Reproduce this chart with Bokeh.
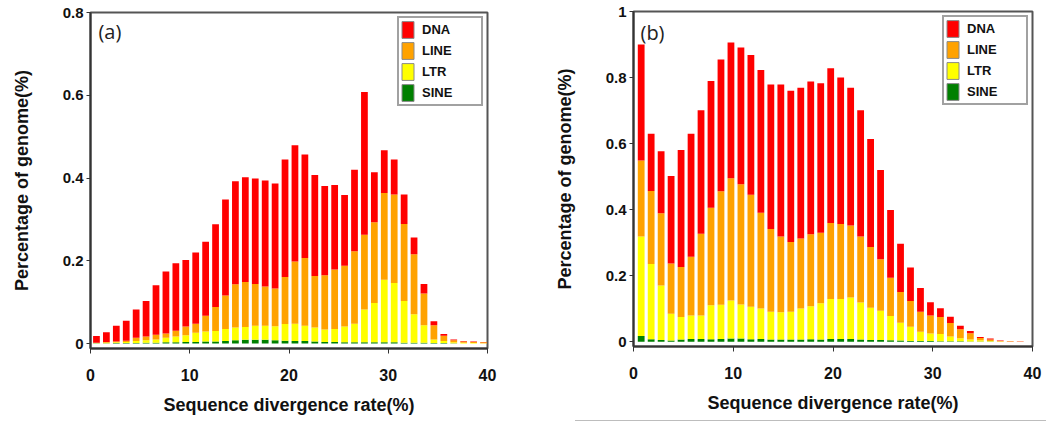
import numpy as np
from bokeh.plotting import figure
from bokeh.models import (ColumnDataSource, Legend, LegendItem, FixedTicker, Label,
                          Range1d, Div, Spacer)
from bokeh.layouts import row, column
from bokeh.embed import file_html
from bokeh.resources import INLINE

# ---------------- data (percentage of genome per 1% divergence bin) ----------------
types = ["DNA", "LINE", "LTR", "SINE"]
colors = {"DNA": "#FF0000", "LINE": "#FFA200", "LTR": "#FFFF00", "SINE": "#008000"}

# panel (a)
bins_a = list(range(40))
dna_a = [0.016, 0.023, 0.038, 0.048, 0.068, 0.086, 0.120, 0.150, 0.163, 0.161,
         0.172, 0.179, 0.200, 0.232, 0.249, 0.253, 0.255, 0.256, 0.254, 0.284,
         0.281, 0.250, 0.244, 0.216, 0.204, 0.171, 0.197, 0.345, 0.121, 0.103,
         0.085, 0.071, 0.040, 0.023, 0.010, 0.004, 0.002, 0.001, 0.001, 0.001]
line_a = [0.001, 0.002, 0.002, 0.003, 0.008, 0.009, 0.011, 0.010, 0.014, 0.021,
          0.022, 0.038, 0.058, 0.081, 0.104, 0.109, 0.101, 0.095, 0.091, 0.114,
          0.150, 0.164, 0.124, 0.131, 0.144, 0.147, 0.175, 0.181, 0.195, 0.210,
          0.214, 0.186, 0.145, 0.077, 0.034, 0.013, 0.005, 0.003, 0.003, 0.0025]
ltr_a = [0.0006, 0.0012, 0.002, 0.003, 0.0045, 0.006, 0.008, 0.011, 0.014, 0.016,
         0.022, 0.024, 0.025, 0.029, 0.031, 0.031, 0.034, 0.034, 0.034, 0.040,
         0.042, 0.037, 0.034, 0.030, 0.031, 0.038, 0.045, 0.079, 0.095, 0.151,
         0.143, 0.101, 0.069, 0.042, 0.009, 0.005, 0.0025, 0.0017, 0.0008, 0.0004]
sine_a = [0.0004, 0.0008, 0.001, 0.001, 0.0015, 0.002, 0.002, 0.003, 0.003, 0.004,
          0.004, 0.005, 0.005, 0.006, 0.008, 0.009, 0.009, 0.009, 0.008, 0.007,
          0.006, 0.006, 0.005, 0.004, 0.004, 0.003, 0.003, 0.003, 0.003, 0.003,
          0.003, 0.002, 0.002, 0.002, 0.001, 0.001, 0.0005, 0.0003, 0.0002, 0.0001]

# panel (b)
bins_b = list(range(39))
dna_b = [0.351, 0.173, 0.188, 0.265, 0.354, 0.372, 0.374, 0.384, 0.399, 0.411,
         0.414, 0.423, 0.432, 0.437, 0.460, 0.458, 0.456, 0.462, 0.453, 0.468,
         0.443, 0.417, 0.382, 0.327, 0.270, 0.205, 0.146, 0.101, 0.072, 0.040,
         0.027, 0.019, 0.011, 0.007, 0.003, 0.003, 0.001, 0.001, 0.0005]
line_b = [0.230, 0.221, 0.218, 0.152, 0.152, 0.178, 0.247, 0.295, 0.344, 0.370,
          0.364, 0.339, 0.290, 0.251, 0.229, 0.211, 0.212, 0.218, 0.213, 0.230,
          0.227, 0.218, 0.200, 0.184, 0.156, 0.116, 0.093, 0.078, 0.060, 0.055,
          0.051, 0.041, 0.027, 0.019, 0.007, 0.004, 0.0015, 0.001, 0.001]
ltr_b = [0.301, 0.228, 0.165, 0.081, 0.068, 0.071, 0.071, 0.103, 0.103, 0.115,
         0.103, 0.098, 0.092, 0.084, 0.083, 0.084, 0.094, 0.100, 0.110, 0.121,
         0.121, 0.125, 0.112, 0.097, 0.088, 0.073, 0.054, 0.043, 0.028, 0.022,
         0.022, 0.014, 0.009, 0.006, 0.004, 0.002, 0.001, 0.0007, 0.0003]
sine_b = [0.018, 0.008, 0.006, 0.004, 0.007, 0.009, 0.009, 0.008, 0.009, 0.010,
          0.010, 0.008, 0.009, 0.007, 0.007, 0.007, 0.007, 0.008, 0.007, 0.009,
          0.009, 0.009, 0.007, 0.006, 0.006, 0.005, 0.004, 0.003, 0.003, 0.003,
          0.002, 0.002, 0.002, 0.001, 0.001, 0.001, 0.0005, 0.0003, 0.0002]

y_ticks_a = [0, 0.2, 0.4, 0.6, 0.8]
y_ticks_b = [0, 0.2, 0.4, 0.6, 0.8, 1.0]
x_ticks = [0, 10, 20, 30, 40]

FONT = "Liberation Sans"
TEXT = "#111111"


def make_panel(bins, dna, line, ltr, sine, offset, yticks, ymin, ymax, tag,
               width, height, bl, br, bt, bb, tag_xy):
    src = ColumnDataSource(dict(x=np.array(bins) + offset, DNA=dna, LINE=line,
                                LTR=ltr, SINE=sine))
    p = figure(width=width, height=height, x_range=Range1d(0, 40),
               y_range=Range1d(ymin, ymax), toolbar_location=None,
               output_backend="svg", min_border_left=bl, min_border_right=br,
               min_border_top=bt, min_border_bottom=bb)
    stack = ["SINE", "LTR", "LINE", "DNA"]
    p.vbar_stack(stack, x="x", width=0.68, source=src,
                 fill_color=[colors[s] for s in stack], line_color=None)

    # legend swatches (renderers outside the visible x-range, used only for the legend)
    items = []
    for t in types:
        r = p.vbar(x=[-100], top=[0.0], width=0.5, fill_color=colors[t],
                   line_color="#8a8a8a", line_width=1)
        items.append(LegendItem(label=t, renderers=[r]))
    leg = Legend(items=items, location="top_right", margin=4, padding=1,
                 spacing=0, glyph_width=15, glyph_height=21, label_height=21,
                 label_width=58, label_standoff=7,
                 label_text_font=FONT, label_text_font_size="13px",
                 label_text_font_style="bold", label_text_color=TEXT,
                 border_line_color="#444444", border_line_width=2,
                 background_fill_color="white", background_fill_alpha=1)
    p.add_layout(leg)

    p.add_layout(Label(x=tag_xy[0], y=tag_xy[1], text=tag, text_font="Open Sans",
                       text_font_size="20px", text_color="#222222",
                       text_baseline="top", text_align="left"))

    p.xgrid.visible = False
    p.ygrid.visible = False
    p.outline_line_color = "#555555"
    p.outline_line_width = 2

    for ax in (p.xaxis[0], p.yaxis[0]):
        ax.axis_line_color = "#333333"
        ax.axis_line_width = 2
        ax.major_tick_line_color = "#333333"
        ax.major_tick_line_width = 1
        ax.minor_tick_line_color = None
        ax.major_tick_in = 0
        ax.major_label_text_font = FONT
        ax.major_label_text_font_style = "bold"
        ax.major_label_text_color = TEXT
        ax.axis_label_text_font = FONT
        ax.axis_label_text_font_style = "bold"
        ax.axis_label_text_font_size = "18px"
        ax.axis_label_text_color = TEXT

    xa = p.xaxis[0]
    xa.ticker = FixedTicker(ticks=x_ticks)
    xa.major_tick_out = 5
    xa.major_label_standoff = 15
    xa.major_label_text_font_size = "16px"
    xa.axis_label = "Sequence divergence rate(%)"
    xa.axis_label_standoff = 11

    ya = p.yaxis[0]
    ya.ticker = FixedTicker(ticks=yticks)
    ya.major_label_overrides = {0: "0", 1: "1"}
    ya.major_tick_out = 4
    ya.major_label_standoff = 3
    ya.major_label_text_font_size = "15px"
    ya.axis_label = "Percentage of genome(%)"
    ya.axis_label_standoff = 28
    return p


pa = make_panel(bins_a, dna_a, line_a, ltr_a, sine_a, 0.6, y_ticks_a, -0.012, 0.8,
                "(a)", 538, 421, 90, 51, 12, 73, (0.8, 0.787))
pb = make_panel(bins_b, dna_b, line_b, ltr_b, sine_b, 0.77, y_ticks_b, -0.014, 1.0,
                "(b)", 508, 415, 95, 14, 11, 68, (0.7, 0.978))

rule = Div(text="", width=476, height=2,
           styles={"background-color": "#bdbdbd"})
layout = row(pa, column(pb, row(Spacer(width=32, height=2), rule)))
open("out.html", "w").write(file_html(layout, INLINE))
